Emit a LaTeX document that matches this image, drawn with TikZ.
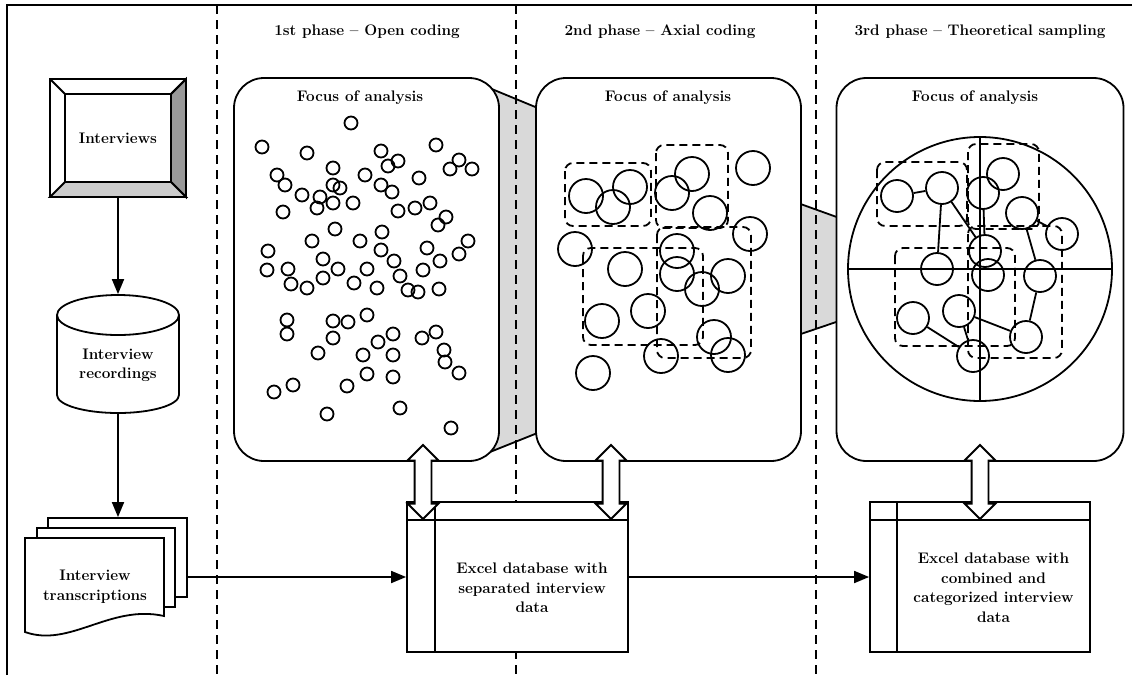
\documentclass[tikz,border=0pt]{standalone}
\usetikzlibrary{arrows.meta,shapes.arrows}
\begin{document}
\begin{tikzpicture}[x=1pt,y=1pt,yscale=-1,line width=1.8pt,>={Triangle[length=15pt,width=12pt]}]
		\tikzstyle{txt} = [font=\fontsize{15.3}{19.5}\selectfont\bfseries,align=center,inner sep=0pt]
		\tikzstyle{hidden} = [inner sep=0pt]
		\tikzstyle{focus} = [draw,fill=white,rounded corners=30pt,minimum height=383pt]
		\tikzstyle{db} = [draw,fill=white,minimum height=150pt]
		\tikzstyle{dbl} = [double arrow,draw,fill=white,rotate=90,minimum height=74pt,inner sep=7.5pt,double arrow head extend=7pt]
		\tikzstyle{phase} = [dash pattern=on 9pt off 6pt]
		\tikzstyle{grp} = [dash pattern=on 8pt off 5pt,rounded corners=8pt]
		\tikzstyle{lens} = [draw,fill=black!15]
		\tikzstyle{code} = [circle,draw,minimum size=32pt,inner sep=0pt]
		
		\useasboundingbox (0,0) rectangle (1132,675);
		
		\draw[lens] (470,80) -- (545,111) -- (545,430) -- (470,460) -- cycle;
		\draw[lens] (795,202) -- (845,220) -- (845,319) -- (795,336) -- cycle;
		
		\draw (7,675) -- (7,5) -- (1132,5);
		\foreach \x in {217,516,816}
			\draw[phase] (\x,5) -- (\x,675);
		
		\node[txt] (ph1) at (367,32) {1st phase -- Open coding};
		\node[txt] (ph2) at (660,32) {2nd phase -- Axial coding};
		\node[txt] (ph3) at (980,32) {3rd phase -- Theoretical sampling};
		
		\node[focus,minimum width=265pt] (foc1) at (366.5,269.5) {};
		\node[focus,minimum width=265pt] (foc2) at (668.5,269.5) {};
		\node[focus,minimum width=287pt] (foc3) at (980,269.5) {};
		\node[txt] (fa1) at (360,98) {Focus of analysis};
		\node[txt] (fa2) at (668,98) {Focus of analysis};
		\node[txt] (fa3) at (975,98) {Focus of analysis};
		
		\foreach \x/\y in {351/123,262/147,307/153,436/145,381/151,398/161,388/166,459/160,450/169,472/169,
			333/168,277/175,285/185,365/175,419/178,333/185,340/188,381/185,392/192,302/195,
			320/197,317/208,333/203,353/203,283/212,398/211,415/208,430/203,446/217,438/225,
			335/229,382/232,312/241,360/241,468/241,268/251,381/250,427/248,459/254,323/259,
			267/270,288/269,338/269,367/269,394/261,423/270,440/261,400/276,291/284,307/288,
			323/278,354/283,377/288,408/290,418/292,439/289,287/320,287/334,333/321,348/322,
			367/315,333/338,393/334,378/342,422/338,436/332,444/350,445/362,459/373,318/353,
			363/355,393/355,367/374,393/377,347/386,293/385,274/392,327/414,400/408,451/428}
			\draw (\x,\y) circle (6.5);
		
		\foreach \x/\y in {586/196,630/187,613/207,692/174,672/193,710/213,753/168,575/249,750/234,625/269,
			677/251,677/274,702/289,728/276,602/321,648/311,714/337,728/355,661/356,593/373}
			\draw (\x,\y) circle (17);
		\draw[grp] (565,163) rectangle (651,226);
		\draw[grp] (656,145) rectangle (728,228);
		\draw[grp] (583,248) rectangle (703,345);
		\draw[grp] (657,227) rectangle (751,358);
		
		\draw (980,269) circle (132);
		\draw (848,269) -- (1112,269);
		\draw (980,137) -- (980,401);
		\node[code] (g1) at (897,196) {};
		\node[code] (g2) at (942,188) {};
		\node[code] (g3) at (983,193) {};
		\node[code] (g4) at (1003,174) {};
		\node[code] (g5) at (1022,213) {};
		\node[code] (g6) at (1062,234) {};
		\node[code] (g7) at (985,251) {};
		\node[code] (g8) at (937,269) {};
		\node[code] (g9) at (988,275) {};
		\node[code] (g10) at (1040,276) {};
		\node[code] (g11) at (959,311) {};
		\node[code] (g12) at (913,318) {};
		\node[code] (g13) at (1026,337) {};
		\node[code] (g14) at (973,356) {};
		\path (g1) edge (g2);
		\path (g2) edge (g8);
		\path (g2) edge (g7);
		\path (g3) edge (g7);
		\path (g5) edge (g6);
		\path (g5) edge (g10);
		\path (g10) edge (g13);
		\path (g11) edge (g13);
		\path (g11) edge (g14);
		\path (g12) edge (g14);
		\draw[grp] (877,162) rectangle (967,226);
		\draw[grp] (968,144) rectangle (1039,229);
		\draw[grp] (895,248) rectangle (1015,346);
		\draw[grp] (968,226) rectangle (1062,358);
		
		\fill[white] (50,79) rectangle (186,197);
		\filldraw[fill=black!40] (186,79) -- (186,197) -- (171,182) -- (171,94) -- cycle;
		\filldraw[fill=black!20] (50,197) -- (186,197) -- (171,182) -- (65,182) -- cycle;
		\draw (50,79) rectangle (186,197);
		\draw (65,94) rectangle (171,182);
		\draw (50,79) -- (65,94) (186,79) -- (171,94);
		\node[txt,minimum width=136pt,minimum height=118pt] (intv) at (118,138) {Interviews};
		
		\draw[fill=white] (57,315) -- (57,395) arc (180:0:61 and 18) -- (179,315) arc (0:-180:61 and 20) -- cycle;
		\draw (57,315) arc (180:0:61 and 20);
		\node[hidden,minimum width=122pt,minimum height=118pt] (rec) at (118,354) {};
		\node[txt] (rect) at (118,365.5) {Interview\\recordings};
		
		\draw[fill=white] (48,518) rectangle (187,597);
		\draw[fill=white] (37,528) rectangle (175,607);
		\draw[fill=white] (25,538) -- (164,538) -- (164,616) .. controls (110,604) and (70,648) .. (25,632) -- cycle;
		\node[hidden,minimum width=139pt,minimum height=79pt] (trans) at (117.5,557.5) {};
		\node[txt] (transt) at (95,586.5) {Interview\\transcriptions};
		
		\node[db,minimum width=221pt] (db1) at (517.5,577) {};
		\draw (435,0 |- db1.north) -- (435,0 |- db1.south);
		\draw (db1.west |- 0,520) -- (db1.east |- 0,520);
		\node[txt] (dbt1) at (532,588) {Excel database with\\separated interview\\data};
		
		\node[db,minimum width=220pt] (db2) at (980,577) {};
		\draw (897,0 |- db2.north) -- (897,0 |- db2.south);
		\draw (db2.west |- 0,520) -- (db2.east |- 0,520);
		\node[txt] (dbt2) at (993.5,587.5) {Excel database with\\combined and\\categorized interview\\data};
		
		\node[dbl] (da1) at (423,482) {};
		\node[dbl] (da2) at (611,482) {};
		\node[dbl] (da3) at (980,482) {};
		
		\draw[->] (intv.south) -- (intv.south |- rec.north);
		\draw[->] (rec.south) -- (rec.south |- trans.north);
		\draw[->] (trans.east |- db1.west) -- (db1.west);
		\draw[->] (db1.east) -- (db2.west);
	\end{tikzpicture}
\end{document}
